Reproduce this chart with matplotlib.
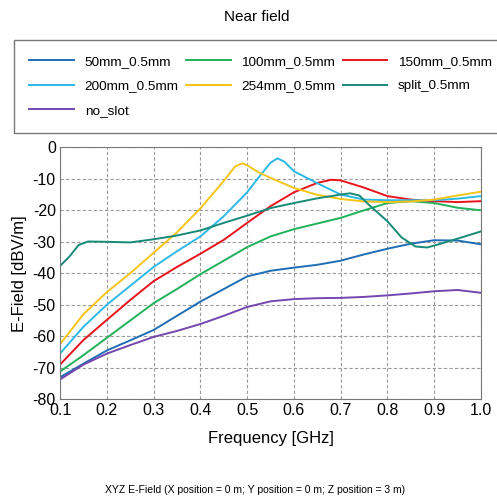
"""Near field E-field vs frequency for several slot variants."""

import matplotlib
matplotlib.use("Agg")
import matplotlib.pyplot as plt

plt.rcParams["font.family"] = ["Liberation Sans", "DejaVu Sans"]
plt.rcParams["axes.unicode_minus"] = False

FREQ = [0.1, 0.15, 0.2, 0.25, 0.3, 0.35, 0.4, 0.45, 0.5, 0.55, 0.6,
        0.65, 0.7, 0.75, 0.8, 0.85, 0.9, 0.95, 1.0]

E_50MM = [-73, -68.7, -64.5, -61.3, -58, -53.5, -49, -45, -41, -39.2, -38.2,
          -37.3, -36, -34, -32.2, -30.6, -29.5, -29.6, -30.8]
E_100MM = [-71.2, -66, -60.5, -55, -49.5, -45, -40.3, -36, -31.7, -28.3, -26,
           -24.2, -22.4, -20, -17.7, -17.1, -17.7, -19.2, -20]
FREQ_150MM = [0.1, 0.15, 0.2, 0.25, 0.3, 0.35, 0.4, 0.45, 0.5, 0.55, 0.6,
              0.65, 0.68, 0.7, 0.75, 0.8, 0.85, 0.9, 0.95, 1.0]
E_150MM = [-69, -61.2, -54.8, -48.5, -42.5, -38, -33.8, -29.4, -24, -18.7, -14.3,
           -11.3, -10.3, -10.5, -12.8, -15.5, -16.6, -17.1, -17.4, -17.1]
FREQ_200MM = [0.1, 0.15, 0.2, 0.25, 0.3, 0.35, 0.4, 0.45, 0.5, 0.525, 0.55,
              0.565, 0.58, 0.6, 0.65, 0.7, 0.75, 0.8, 0.85, 0.9, 0.95, 1.0]
E_200MM = [-65.5, -57, -50, -44, -38, -33, -28.3, -21.9, -14.3, -9.5, -4.9,
           -3.5, -4.6, -7.6, -11.4, -15, -16.6, -16.8, -16.8, -16.8, -16.3, -15.5]
FREQ_254MM = [0.1, 0.15, 0.2, 0.25, 0.3, 0.35, 0.4, 0.45, 0.475, 0.49, 0.5,
              0.525, 0.55, 0.6, 0.65, 0.7, 0.75, 0.8, 0.85, 0.9, 0.95, 1.0]
E_254MM = [-62.5, -53, -46, -40, -33.5, -27, -19.4, -10.7, -6, -5.1, -5.7,
           -8, -9.7, -12.9, -15.1, -16.4, -17.2, -17.4, -17.2, -16.6, -15.3, -14.1]
FREQ_SPLIT = [0.1, 0.12, 0.14, 0.16, 0.2, 0.25, 0.3, 0.35, 0.4, 0.45, 0.5,
              0.55, 0.6, 0.65, 0.7, 0.72, 0.74, 0.76, 0.8, 0.83, 0.86, 0.885,
              0.9, 0.95, 1.0]
E_SPLIT = [-37.7, -34.7, -31, -29.9, -30, -30.2, -29.2, -28, -26.4, -24, -21.7,
           -19.3, -17.7, -16.2, -15, -14.6, -15.3, -18.2, -23.5, -28.6, -31.5, -31.8,
           -31.2, -29, -26.7]
E_NO_SLOT = [-73.7, -69, -65.5, -62.8, -60.2, -58.3, -56.1, -53.5, -50.7, -48.9, -48.2,
             -47.9, -47.8, -47.5, -47, -46.4, -45.7, -45.3, -46.2]

SERIES = [
    ("50mm_0.5mm", FREQ, E_50MM, "#1f6db5"),
    ("100mm_0.5mm", FREQ, E_100MM, "#1fb25a"),
    ("150mm_0.5mm", FREQ_150MM, E_150MM, "#e8141c"),
    ("200mm_0.5mm", FREQ_200MM, E_200MM, "#2cb9e8"),
    ("254mm_0.5mm", FREQ_254MM, E_254MM, "#f6c416"),
    ("split_0.5mm", FREQ_SPLIT, E_SPLIT, "#178a78"),
    ("no_slot", FREQ, E_NO_SLOT, "#7446b0"),
]

X_TICKS = [0.1, 0.2, 0.3, 0.4, 0.5, 0.6, 0.7, 0.8, 0.9, 1.0]
Y_TICKS = [0, -10, -20, -30, -40, -50, -60, -70, -80]

fig = plt.figure(figsize=(4.97, 5.01), dpi=100)
ax = fig.add_axes([60 / 497, 1 - 399.3 / 501, 421 / 497, 252 / 501])

lines = []
for label, x, y, color in SERIES:
    (line,) = ax.plot(x, y, color=color, linewidth=1.4, label=label,
                      solid_joinstyle="round")
    lines.append(line)

ax.set_xlim(0.1, 1.0)
ax.set_ylim(-80, 0)
ax.set_xticks(X_TICKS)
ax.set_xticklabels([f"{t:.1f}" for t in X_TICKS])
ax.set_yticks(Y_TICKS)
ax.tick_params(length=0, labelsize=11.5, pad=3)
ax.grid(True, color="#999999", linestyle=(0, (3, 2)), linewidth=0.8)
for spine in ax.spines.values():
    spine.set_color("#777777")
ax.set_xlabel("Frequency [GHz]", fontsize=12, labelpad=9)
ax.set_ylabel("E-Field [dBV/m]", fontsize=12, labelpad=4)

fig.text(257 / 497, 1 - 17 / 501, "Near field", ha="center", va="center", fontsize=11)

# legend fills column by column, so reorder to read row by row like the original
order = [0, 3, 6, 1, 4, 2, 5]
leg = fig.legend([lines[i] for i in order], [SERIES[i][0] for i in order],
                 ncol=3, loc="upper left",
                 bbox_to_anchor=(14 / 497, 1 - 40 / 501), fontsize=9.7,
                 frameon=True, fancybox=False, edgecolor="#555555",
                 handlelength=3.3, handletextpad=0.8, columnspacing=0.55,
                 labelspacing=0.9, borderpad=1.15, borderaxespad=0)
leg.get_frame().set_linewidth(1.0)

fig.text(255 / 497, 1 - 490 / 501,
         "XYZ E-Field (X position = 0 m; Y position = 0 m; Z position = 3 m)",
         ha="center", va="center", fontsize=7.5)

fig.savefig("out.png", dpi=100)
